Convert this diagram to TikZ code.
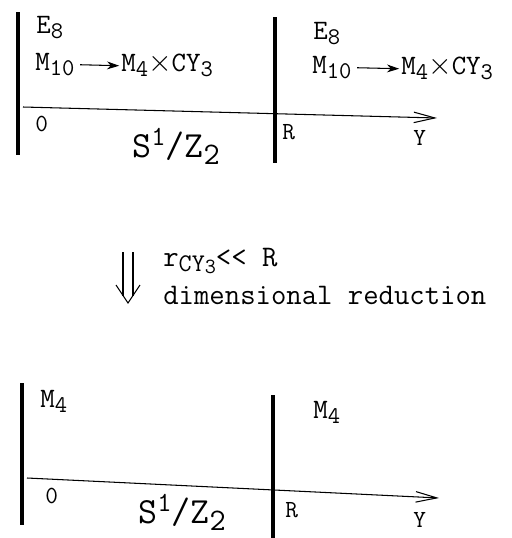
\documentclass[tikz,border=0pt]{standalone}
\usepackage{fontspec}
\usepackage{graphicx}
\usepackage{tikz}
\usetikzlibrary{arrows.meta}
\newcommand{\lo}[1]{\raisebox{-0.45ex}{\scalebox{0.85}{#1}}}
\newcommand{\hi}[1]{\raisebox{0.75ex}{\scalebox{0.75}{#1}}}

\begin{document}
\begin{tikzpicture}[x=0.02cm,y=-0.02cm,>=Stealth,
  wall/.style={line width=2.4pt},
  yaxis/.style={line width=0.6pt,-{Straight Barb[length=12pt,width=6pt,line width=0.6pt]}},
  lab/.style={inner sep=0pt,anchor=base west,font=\ttfamily\fontsize{16}{18}\selectfont},
  pt/.style={inner sep=0pt,anchor=base west,font=\ttfamily\fontsize{14}{16}\selectfont},
  orb/.style={inner sep=0pt,anchor=base west,font=\ttfamily\fontsize{21}{23}\selectfont},
  note/.style={inner sep=0pt,anchor=base west,font=\ttfamily\fontsize{17}{19}\selectfont},
  map/.style={line width=0.6pt,-{Stealth[length=7pt,width=4.5pt]}}]
  \useasboundingbox (0,0) rectangle (511,538);

  % M_10 on S^1/Z_2
  \coordinate (wallA) at (18,12);   \coordinate (wallAe) at (18,155);
  \coordinate (wallB) at (275,17);  \coordinate (wallBe) at (275,163);
  \coordinate (axA) at (23,107);    \coordinate (axAe) at (437,118);
  \draw[wall] (wallA) -- (wallAe);
  \draw[wall] (wallB) -- (wallBe);
  \draw[yaxis] (axA) -- (axAe);
  \node[lab] (e8a) at (36,33) {E\lo{8}};
  \node[lab] (m10a) at (35,70) {M\lo{10}};
  \node[lab] (m4a) at (121,71) {M\lo{4}$\times$CY\lo{3}};
  \draw[map] ([shift={(3pt,3pt)}]m10a.base east) -- ([shift={(-1pt,3pt)}]m4a.base west);
  \node[lab] (e8b) at (313,39) {E\lo{8}};
  \node[lab] (m10b) at (312,73) {M\lo{10}};
  \node[lab] (m4b) at (401,74) {M\lo{4}$\times$CY\lo{3}};
  \draw[map] ([shift={(3pt,3pt)}]m10b.base east) -- ([shift={(-1pt,3pt)}]m4b.base west);
  \node[pt] (zeroA) at (35,131) {0};
  \node[orb] (orbA) at (132,157) {S\hi{1}/Z\lo{2}};
  \node[pt] (rA) at (282,139) {R};
  \node[pt] (yA) at (413,145) {Y};

  % reduction arrow
  \coordinate (dnL) at (123,252); \coordinate (dnLe) at (123,296);
  \coordinate (dnR) at (133,252); \coordinate (dnRe) at (133,296);
  \coordinate (tipL) at (116,285); \coordinate (tip) at (128,303); \coordinate (tipR) at (140,285);
  \draw[line width=0.6pt] (dnL) -- (dnLe) (dnR) -- (dnRe);
  \draw[line width=0.6pt] (tipL) -- (tip) -- (tipR);
  \node[note] (cond) at (163,266) {r\lo{CY\raisebox{-0.2ex}{\scalebox{0.85}{3}}}<\kern0pt< R};
  \node[note] (dimred) at (163,304) {dimensional reduction};

  % M_4 on S^1/Z_2
  \coordinate (wallC) at (22,383);  \coordinate (wallCe) at (22,525);
  \coordinate (wallD) at (273,395); \coordinate (wallDe) at (273,538);
  \coordinate (axC) at (27,478);    \coordinate (axCe) at (439,498);
  \draw[wall] (wallC) -- (wallCe);
  \draw[wall] (wallD) -- (wallDe);
  \draw[yaxis] (axC) -- (axCe);
  \node[lab] (m4c) at (40,407) {M\lo{4}};
  \node[lab] (m4d) at (313,418) {M\lo{4}};
  \node[pt] (zeroC) at (45,503) {0};
  \node[orb] (orbC) at (138,523) {S\hi{1}/Z\lo{2}};
  \node[pt] (rC) at (285,517) {R};
  \node[pt] (yC) at (413,527) {Y};
\end{tikzpicture}
\end{document}
